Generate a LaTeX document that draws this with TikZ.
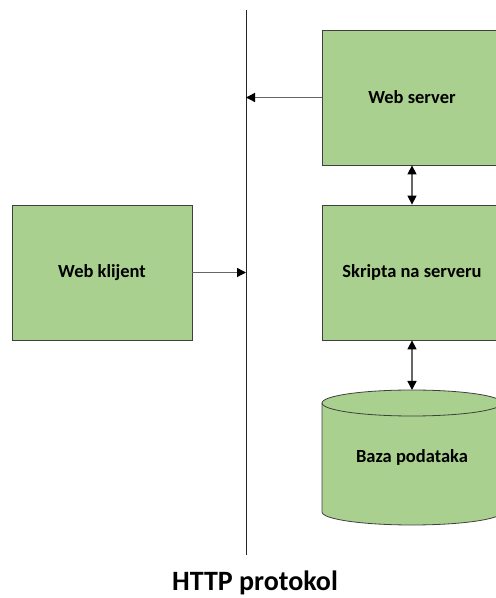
\documentclass[tikz,border=0pt]{standalone}
\usepackage{fontspec}
\setmainfont{Carlito}
\usetikzlibrary{arrows.meta}
\definecolor{boxgreen}{RGB}{169,208,142}
\definecolor{edgegray}{RGB}{64,64,64}
\begin{document}
\begin{tikzpicture}[x=1pt,y=1pt,
        box/.style={draw=edgegray, thick, fill=boxgreen, minimum width=180pt, minimum height=135pt, font=\fontsize{18.5}{22}\selectfont\bfseries},
        conn/.style={draw=edgegray!80, line width=1.4pt, -{Triangle[length=9pt,width=9pt,color=black]}},
        dconn/.style={draw=edgegray!80, line width=1.4pt, {Triangle[length=9pt,width=9pt,color=black]}-{Triangle[length=9pt,width=9pt,color=black]}}]
        \useasboundingbox (0,0) rectangle (496,598);
        \clip (0,0) rectangle (496,598);
        \coordinate (lntop) at (246,588);
        \coordinate (lnbot) at (246,43);
        \draw[black!85, thick] (lntop) -- (lnbot);
        \node[box] (server) at (412,500.5) {Web server};
        \node[box] (skripta) at (412,325.5) {Skripta na serveru};
        \node[box] (klijent) at (102,325.5) {Web klijent};
        % baza
        \draw[edgegray, thick, fill=boxgreen] (322,195) -- (322,86) arc[start angle=180, end angle=360, x radius=90, y radius=13] -- (502,195) arc[start angle=0, end angle=180, x radius=90, y radius=13] -- cycle;
        \draw[edgegray, thick] (322,195) arc[start angle=180, end angle=360, x radius=90, y radius=13];
        \coordinate (bazatop) at (412,208);
        \node[font=\fontsize{18.5}{22}\selectfont\bfseries] (baza) at (412,141) {Baza podataka};
        \draw[conn] (server.west) -- (server.west -| lntop);
        \draw[conn] (klijent.east) -- (klijent.east -| lntop);
        \draw[dconn] (server.south) -- (skripta.north);
        \draw[dconn] (skripta.south) -- (bazatop);
        \node[font=\fontsize{28}{32}\selectfont\bfseries] (naslov) at (255,15) {HTTP protokol};
\end{tikzpicture}
\end{document}
